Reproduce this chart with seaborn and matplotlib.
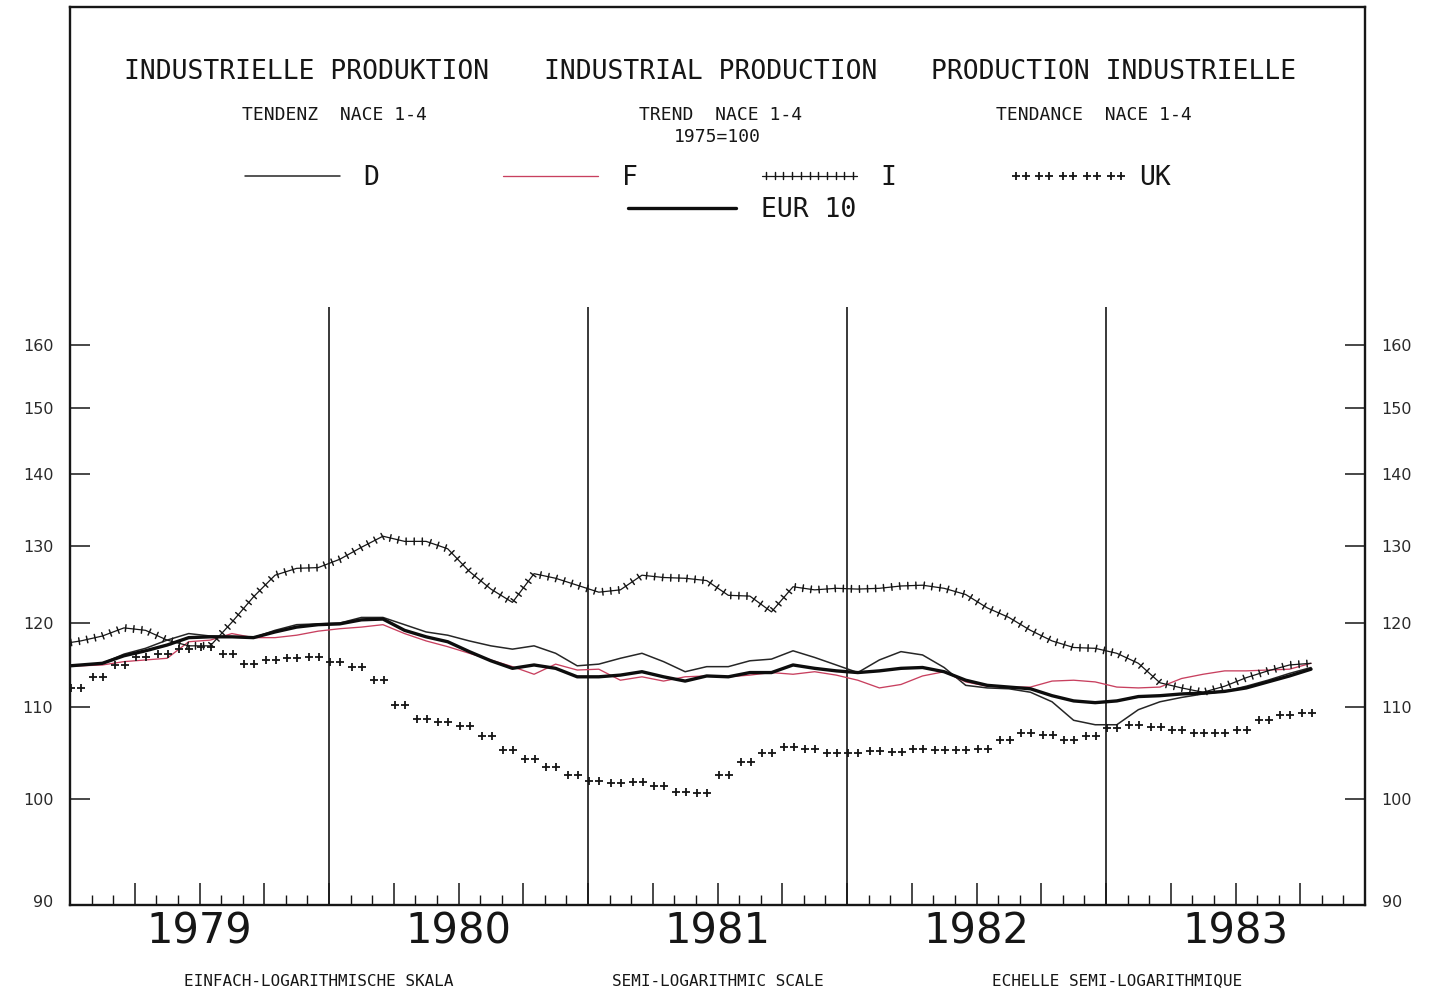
import numpy as np
import pandas as pd
import matplotlib
matplotlib.use("Agg")
import matplotlib.pyplot as plt
import matplotlib.patheffects as pe
from matplotlib.path import Path
from matplotlib.ticker import NullLocator
import seaborn as sns

sns.set_theme(style="white")
plt.rcParams["font.family"] = ["DejaVu Sans Mono", "DejaVu Sans"]

# ---------------- data (index 1975 = 100) ----------------
# month index: 0 = Jan 1979 ; series start Dec 1978 (-1) and end Oct 1983 (57)
months = np.arange(-1, 58)
uk_months = np.arange(0, 58)

D = [114.7, 114.9, 115.1, 116.2, 116.9, 117.9, 118.7, 118.4, 118.3, 118.2,
     119.1, 119.8, 119.9, 120.0, 120.7, 120.7, 119.8, 118.9, 118.5, 117.8,
     117.2, 116.8, 117.2, 116.3, 114.8, 115.0, 115.7, 116.3, 115.3, 114.1,
     114.7, 114.7, 115.4, 115.6, 116.6, 115.8, 114.9, 114.0, 115.5, 116.5,
     116.1, 114.6, 112.5, 112.2, 112.1, 111.7, 110.6, 108.5, 108.0, 108.0,
     109.7, 110.6, 111.1, 111.5, 111.8, 112.4, 113.1, 113.9, 114.6]

F = [114.7, 114.8, 114.9, 115.3, 115.5, 115.7, 117.7, 117.9, 118.7, 118.2,
     118.2, 118.5, 119.0, 119.3, 119.5, 119.8, 118.7, 117.8, 117.1, 116.3,
     115.5, 114.7, 113.8, 115.0, 114.3, 114.4, 113.1, 113.5, 113.0, 113.5,
     113.6, 113.5, 113.7, 114.0, 113.8, 114.1, 113.7, 113.1, 112.2, 112.6,
     113.6, 114.1, 112.9, 112.4, 112.3, 112.3, 113.0, 113.1, 112.9, 112.3,
     112.2, 112.3, 113.3, 113.8, 114.2, 114.2, 114.3, 114.4, 115.1]

I = [117.4, 117.8, 118.4, 119.4, 119.1, 117.9, 117.2, 117.2, 120.1, 123.3,
     126.1, 127.0, 127.1, 128.2, 129.8, 131.3, 130.6, 130.6, 129.6, 126.6,
     124.3, 122.6, 126.3, 125.7, 124.8, 123.9, 124.2, 126.1, 125.8, 125.7,
     125.4, 123.5, 123.4, 121.4, 124.6, 124.2, 124.4, 124.3, 124.4, 124.7,
     124.8, 124.4, 123.6, 121.9, 120.7, 119.1, 117.8, 117.0, 116.9, 116.3,
     115.1, 112.8, 112.2, 111.7, 112.4, 113.4, 114.2, 114.9, 115.1]

EUR10 = [114.7, 114.9, 115.1, 116.0, 116.6, 117.3, 118.2, 118.3, 118.3, 118.2,
         118.9, 119.5, 119.8, 119.9, 120.4, 120.5, 119.1, 118.3, 117.7, 116.5,
         115.4, 114.5, 114.9, 114.5, 113.5, 113.5, 113.7, 114.1, 113.5, 113.0,
         113.6, 113.5, 114.0, 114.0, 114.9, 114.5, 114.2, 114.0, 114.2, 114.5,
         114.6, 114.1, 113.1, 112.5, 112.3, 112.1, 111.3, 110.7, 110.5, 110.7,
         111.2, 111.3, 111.5, 111.6, 111.8, 112.2, 112.9, 113.6, 114.4]

UK = [112.2, 113.5, 114.9, 115.8, 116.2, 116.8, 117.0, 116.2, 115.0, 115.5,
      115.7, 115.8, 115.3, 114.7, 113.1, 110.2, 108.6, 108.3, 107.9, 106.7,
      105.2, 104.2, 103.4, 102.5, 101.9, 101.7, 101.8, 101.4, 100.7, 100.6,
      102.5, 103.9, 104.9, 105.5, 105.3, 104.9, 104.9, 105.1, 105.0, 105.3,
      105.2, 105.2, 105.3, 106.3, 107.1, 106.9, 106.3, 106.7, 107.6, 108.0,
      107.7, 107.4, 107.1, 107.1, 107.4, 108.5, 109.1, 109.3]

years = [1979, 1980, 1981, 1982, 1983]
ytick_values = [90, 100, 110, 120, 130, 140, 150, 160]

titles = ["INDUSTRIELLE PRODUKTION", "INDUSTRIAL PRODUCTION", "PRODUCTION INDUSTRIELLE"]
subtitles = ["TENDENZ  NACE 1-4", "TREND  NACE 1-4", "TENDANCE  NACE 1-4"]
base_note = "1975=100"
scale_notes = ["EINFACH-LOGARITHMISCHE SKALA", "SEMI-LOGARITHMIC SCALE",
               "ECHELLE SEMI-LOGARITHMIQUE"]

# ---------------- figure ----------------
W, H = 1431, 1001
fig = plt.figure(figsize=(W / 100, H / 100), dpi=100)
fig.patch.set_facecolor("white")
ax = fig.add_axes([70 / W, 1 - 905 / H, (1365 - 70) / W, (905 - 7) / H])
ax.set_facecolor("white")

df = pd.DataFrame({"x": 1979 + (months + 0.5) / 12, "D": D, "F": F, "I": I, "EUR 10": EUR10})
df_uk = pd.DataFrame({"x": 1979 + (uk_months + 0.3) / 12, "UK": UK})

ink = "#161616"
sns.lineplot(data=df, x="x", y="D", ax=ax, color="#262626", lw=1.1, label="D")
sns.lineplot(data=df, x="x", y="F", ax=ax, color="#c8405f", lw=0.95, label="F")
sns.lineplot(data=df, x="x", y="I", ax=ax, color=ink, lw=0.9, label="I",
             path_effects=[pe.Normal(),
                           pe.TickedStroke(spacing=5.8, angle=90, length=0.42, linewidth=1.05),
                           pe.TickedStroke(spacing=5.8, angle=-90, length=0.42, linewidth=1.05)])

# double-cross marker used by the plotter for UK
a = 0.36
verts, codes = [], []
for cx in (-0.5, 0.5):
    verts += [(cx - a, 0), (cx + a, 0), (cx, -a), (cx, a)]
    codes += [Path.MOVETO, Path.LINETO, Path.MOVETO, Path.LINETO]
pair_plus = Path(verts, codes)

sns.lineplot(data=df_uk, x="x", y="UK", ax=ax, color=ink, linestyle="",
             marker=pair_plus, markersize=12.5, markeredgewidth=1.3,
             markeredgecolor=ink, markerfacecolor="none", label="UK")
sns.lineplot(data=df, x="x", y="EUR 10", ax=ax, color="#0d0d0d", lw=2.4, label="EUR 10")

# ---------------- axes ----------------
ax.set_yscale("log")
ax.set_xlim(1979, 1984)
ax.set_ylim(89.6, 227.2)
ax.set_xlabel("")
ax.set_ylabel("")

ax.vlines(years[1:], 89.6, 166.5, color=ink, lw=1.2, zorder=1)

for s in ax.spines.values():
    s.set_color(ink)
    s.set_linewidth(1.7)
    s.set_visible(True)

ax.yaxis.set_minor_locator(NullLocator())
ax.set_yticks(ytick_values)
ax.set_yticklabels([str(v) for v in ytick_values], family="DejaVu Sans",
                   fontsize=11.5, color="#2a2a2a")
ax.tick_params(axis="y", which="major", direction="in", length=14.5, width=1.1,
               color=ink, left=True, right=True, labelleft=True, labelright=True, pad=12)
first = ax.yaxis.get_major_ticks()[0]
first.tick1line.set_visible(False)
first.tick2line.set_visible(False)

quarters = 1979 + np.arange(0, 61, 3) / 12
month_ticks = 1979 + np.arange(0, 61) / 12
ax.set_xticks(quarters)
ax.set_xticks(month_ticks, minor=True)
ax.tick_params(axis="x", which="major", direction="in", length=16, width=1.1,
               color=ink, bottom=True, top=False, labelbottom=False)
ax.tick_params(axis="x", which="minor", direction="in", length=7, width=1.0,
               color=ink, bottom=True, top=False)

xt = ax.get_xaxis_transform()
for y in years:
    ax.text(y + 0.5, -0.029, str(y), transform=xt, ha="center", va="center",
            fontsize=30, family="DejaVu Sans", color=ink)

# ---------------- titles ----------------
for txt, cx in zip(titles, [307, 711, 1114]):
    fig.text(cx / W, 1 - 72 / H, txt, ha="center", va="center", fontsize=19, color=ink)
for txt, cx in zip(subtitles, [334, 721, 1094]):
    fig.text(cx / W, 1 - 115 / H, txt, ha="center", va="center", fontsize=13, color=ink)
fig.text(717 / W, 1 - 137 / H, base_note, ha="center", va="center", fontsize=13, color=ink)
for txt, cx in zip(scale_notes, [319, 718, 1117]):
    fig.text(cx / W, 1 - 981 / H, txt, ha="center", va="center", fontsize=11.5, color=ink)

# ---------------- legends ----------------
handles, labels = ax.get_legend_handles_labels()
hmap = dict(zip(labels, handles))
if ax.get_legend() is not None:
    ax.get_legend().remove()

leg1 = ax.legend([hmap[k] for k in ["D", "F", "I", "UK"]], ["D", "F", "I", "UK"],
                 loc="center", bbox_to_anchor=(704 / W, 1 - 178 / H),
                 bbox_transform=fig.transFigure, frameon=False, ncol=4,
                 borderpad=0, borderaxespad=0, handlelength=4.2, handletextpad=0.6,
                 columnspacing=4.4, numpoints=5, prop={"family": "DejaVu Sans Mono", "size": 19})
for t in leg1.get_texts():
    t.set_color(ink)
ax.add_artist(leg1)
leg2 = ax.legend([hmap["EUR 10"]], ["EUR 10"], loc="center",
                 bbox_to_anchor=(742 / W, 1 - 210 / H), bbox_transform=fig.transFigure,
                 frameon=False, borderpad=0, borderaxespad=0, handlelength=4.1,
                 handletextpad=0.95, prop={"family": "DejaVu Sans Mono", "size": 19})
for t in leg2.get_texts():
    t.set_color(ink)

fig.savefig("out.png", dpi=100, facecolor="white")
